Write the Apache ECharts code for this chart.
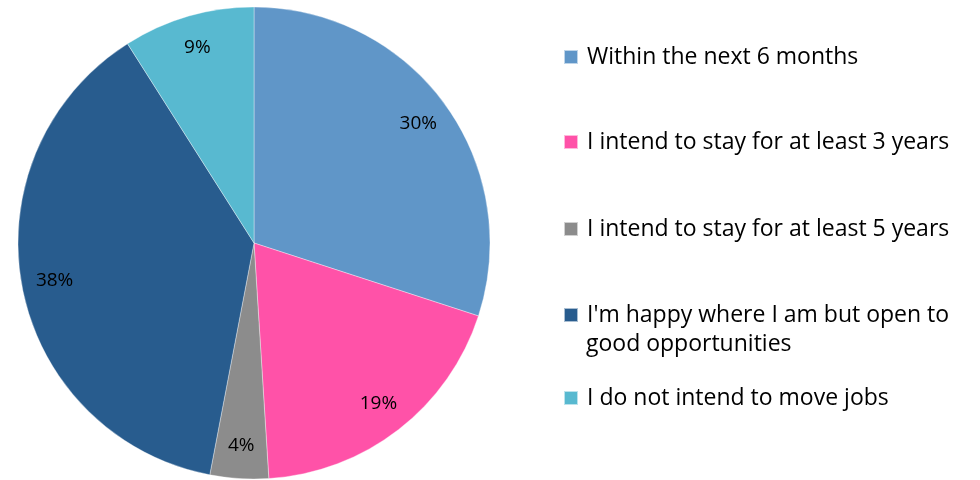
<!DOCTYPE html>
<html>
<head>
<meta charset="utf-8">
<script src="https://cdn.jsdelivr.net/npm/echarts@6/dist/echarts.min.js"></script>
<style>
  html, body { margin: 0; padding: 0; background: #fff; }
  #chart { width: 980px; height: 480px; }
</style>
</head>
<body>
<div id="chart"></div>
<script>
const categories = [
  'Within the next 6 months',
  'I intend to stay for at least 3 years',
  'I intend to stay for at least 5 years',
  "I'm happy where I am but open to good opportunities",
  'I do not intend to move jobs'
]
// legend text as it is wrapped in the original
const legendLines = [
  ['Within the next 6 months'],
  ['I intend to stay for at least 3 years'],
  ['I intend to stay for at least 5 years'],
  ["I'm happy where I am but open to", 'good opportunities'],
  ['I do not intend to move jobs']
]
const values = [30, 19, 4, 38, 9]
const colors = ['#6096C8', '#FF52A8', '#8C8C8C', '#285C8E', '#58B9D0']
// vertical centre of each legend row (px)
const legendRows = [57, 142, 229, 315, 398]
const lineStep = 29

const chart = echarts.init(document.getElementById('chart'))
const font = '"Open Sans", "Liberation Sans", sans-serif'
const legendFontSize = 23
const rowH = 28

const pieData = categories.map((name, i) => ({
  name,
  value: values[i],
  itemStyle: { color: colors[i] }
}))

// one legend per row; the icon sits on the first line like the original
const legends = categories.map((name, i) => ({
  data: [name],
  orient: 'vertical',
  left: 558,
  top: legendRows[i] - rowH / 2 - 5,
  itemWidth: 14,
  itemHeight: 14,
  icon: 'rect',
  selectedMode: false,
  formatter: () => legendLines[i][0],
  textStyle: {
    fontFamily: font,
    fontSize: legendFontSize,
    color: '#000',
    lineHeight: rowH,
    padding: [0, 0, 0, 4]
  }
}))

// wrapped continuation lines of legend entries
const titles = []
legendLines.forEach((lines, i) => {
  lines.slice(1).forEach((txt, k) => {
    titles.push({
      text: txt,
      left: 586 - 5,
      top: legendRows[i] + lineStep * (k + 1) - rowH / 2,
      padding: [0, 5],
      textStyle: {
        fontFamily: font,
        fontSize: legendFontSize,
        fontWeight: 'normal',
        color: '#000',
        lineHeight: rowH
      }
    })
  })
})

const option = {
  animation: false,
  title: titles,
  legend: legends,
  series: [
    {
      type: 'pie',
      center: [254, 243],
      radius: [0, 236],
      startAngle: 90,
      clockwise: true,
      data: pieData,
      label: { show: false },
      labelLine: { show: false },
      itemStyle: { borderColor: 'rgba(255,255,255,0.6)', borderWidth: 0.6 },
      silent: true
    },
    {
      // transparent ring just for the percentage labels
      type: 'pie',
      center: [254, 243],
      radius: [164, 236],
      startAngle: 90,
      clockwise: true,
      silent: true,
      data: categories.map((name, i) => ({ name, value: values[i] })),
      itemStyle: { color: 'rgba(0,0,0,0)' },
      label: {
        show: true,
        position: 'inside',
        formatter: '{c}%',
        fontFamily: font,
        fontSize: 19,
        color: '#000'
      },
      labelLine: { show: false }
    }
  ]
}

chart.setOption(option)
</script>
</body>
</html>
